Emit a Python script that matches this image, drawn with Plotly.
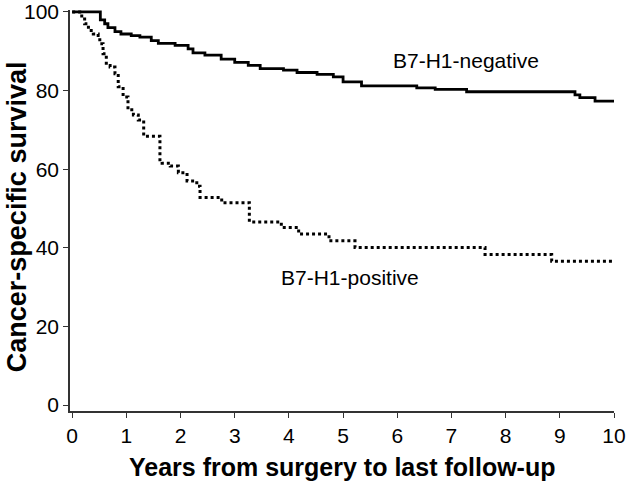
import plotly.graph_objects as go

neg_years = [0, 0.52, 0.6, 0.66, 0.79, 0.9, 1.09, 1.25, 1.46, 1.59, 1.9, 2.14, 2.23, 2.45,
             2.75, 3.0, 3.25, 3.47, 3.9, 4.15, 4.52, 4.82, 5.0, 5.34, 6.36, 6.7, 7.28,
             9.28, 9.37, 9.65, 10.0]
neg_surv = [100, 98, 97, 96, 95, 94.4, 94, 93.6, 92.7, 92, 91.5, 90.6, 89.6,
            89, 88, 87.2, 86.4, 85.6, 85.2, 84.6, 84.1, 83.5, 82.2, 81.2, 80.7, 80.3, 79.7,
            78.9, 78.2, 77.3, 77.3]

pos_years = [0, 0.14, 0.23, 0.3, 0.39, 0.48, 0.51, 0.57, 0.63, 0.7, 0.79, 0.85, 0.94,
             1.03, 1.13, 1.22, 1.32, 1.62, 1.66, 1.81, 1.96, 2.12, 2.3, 2.36, 2.76,
             3.27, 3.86, 4.18, 4.74, 5.22, 7.62, 8.85, 10.0]
pos_surv = [100, 99, 97, 95.3, 94.4, 94, 91.9, 89.4, 86.4, 86, 84.3, 81, 78.4,
            75.1, 73.8, 72.5, 68.4, 62, 61.5, 60.8, 59.1, 57, 55.7, 52.8, 51.5,
            46.6, 45.2, 43.5, 41.8, 40.1, 38.3, 36.6, 36.6]

x_ticks = list(range(0, 11))
y_ticks = [0, 20, 40, 60, 80, 100]

FONT = "Liberation Sans, Arial, Helvetica, sans-serif"

fig = go.Figure()
fig.add_trace(go.Scatter(x=neg_years, y=neg_surv, mode="lines", line_shape="hv",
                         line=dict(color="black", width=2.8), name="B7-H1-negative"))
fig.add_trace(go.Scatter(x=pos_years, y=pos_surv, mode="lines", line_shape="hv",
                         line=dict(color="black", width=3, dash="dot"), name="B7-H1-positive"))

fig.add_annotation(x=7.27, y=87.6, text="B7-H1-negative", showarrow=False,
                   font=dict(family=FONT, size=21, color="black"))
fig.add_annotation(x=5.13, y=32.4, text="B7-H1-positive", showarrow=False,
                   font=dict(family=FONT, size=21, color="black"))
# axis titles placed as paper annotations for exact placement
fig.add_annotation(xref="paper", yref="paper", x=0.5, y=-0.14, yanchor="middle",
                   text="<b>Years from surgery to last follow-up</b>", showarrow=False,
                   font=dict(family=FONT, size=25, color="black"))
fig.add_annotation(xref="paper", yref="paper", x=-0.098, y=0.485, xanchor="center",
                   yanchor="middle", textangle=-90,
                   text="<b>Cancer-specific survival</b>", showarrow=False,
                   font=dict(family=FONT, size=27, color="black"))

fig.update_layout(
    width=627, height=481,
    margin=dict(l=70, r=13, t=10, b=70),
    paper_bgcolor="white", plot_bgcolor="white",
    showlegend=False,
    font=dict(family=FONT, size=21, color="black"),
)
fig.update_xaxes(range=[-0.04, 10.0], tickvals=x_ticks, ticks="outside", ticklen=5,
                 tickwidth=1.3, tickcolor="#333", showline=True, linecolor="#333", linewidth=1.5,
                 showgrid=False, zeroline=False, ticklabeloverflow="allow", automargin=False,
                 tickfont=dict(size=21))
fig.update_yaxes(range=[-1.5, 100.5], tickvals=y_ticks, ticks="outside", ticklen=5,
                 tickwidth=1.3, tickcolor="#333", showline=True, linecolor="#333", linewidth=1.5,
                 showgrid=False, zeroline=False, ticklabeloverflow="allow", automargin=False,
                 tickfont=dict(size=21))

fig.write_html("out.html", config={"displayModeBar": False},
               post_script="document.body.style.margin='0';")
